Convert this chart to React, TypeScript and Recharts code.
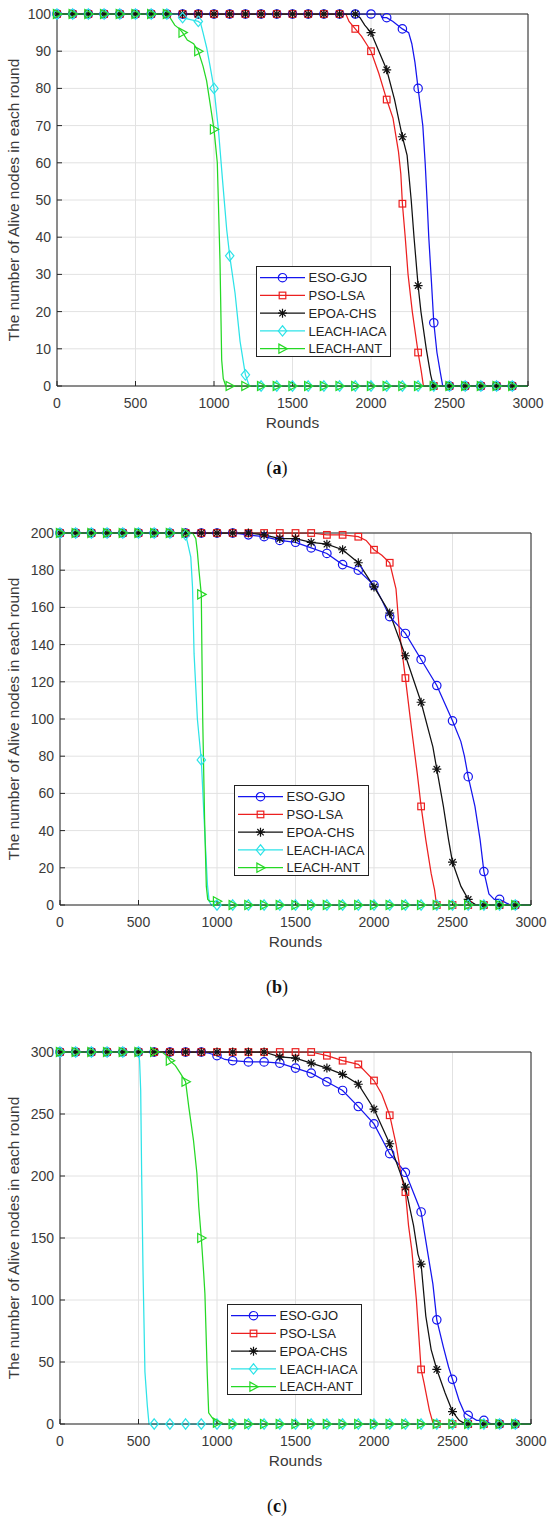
import React from 'react';
import { LineChart, Line, XAxis, YAxis, CartesianGrid } from 'recharts';

type Pt = [number, number];

const SERIES_NAMES = ['ESO-GJO', 'PSO-LSA', 'EPOA-CHS', 'LEACH-IACA', 'LEACH-ANT'];
const SERIES_COLORS = ['#1515ee', '#ec2020', '#111111', '#2ee3e8', '#25d825'];
const SERIES_MARKERS = ['circle', 'square', 'star', 'diamond', 'triangle'];
const X_TICKS = [0, 500, 1000, 1500, 2000, 2500, 3000];
const A_Y_TICKS = [0, 10, 20, 30, 40, 50, 60, 70, 80, 90, 100];
const B_Y_TICKS = [0, 20, 40, 60, 80, 100, 120, 140, 160, 180, 200];
const C_Y_TICKS = [0, 50, 100, 150, 200, 250, 300];
const PANEL_LETTERS = ['a', 'b', 'c'];
const X_LABEL = 'Rounds';
const Y_LABEL = 'The number of Alive nodes in each round';

// ---------- panel (a): 100 nodes ----------
const A_ESO: Pt[] = [[0,100],[100,100],[200,100],[300,100],[400,100],[500,100],[600,100],[700,100],[800,100],[900,100],[1000,100],[1100,100],[1200,100],[1300,100],[1400,100],[1500,100],[1600,100],[1700,100],[1800,100],[1900,100],[2000,100],[2060,100],[2070,99],[2100,99],[2140,98],[2170,97],[2200,96],[2240,95],[2260,92],[2280,87],[2300,80],[2330,70],[2345,60],[2357,50],[2368,40],[2385,28],[2400,17],[2420,9],[2440,4],[2457,0],[2500,0],[2600,0],[2700,0],[2800,0],[2900,0],[3000,0]];
const A_PSO: Pt[] = [[0,100],[100,100],[200,100],[300,100],[400,100],[500,100],[600,100],[700,100],[800,100],[900,100],[1000,100],[1100,100],[1200,100],[1300,100],[1400,100],[1500,100],[1600,100],[1700,100],[1800,100],[1840,100],[1860,98],[1880,97],[1900,96],[1940,94],[1970,92],[2000,90],[2050,84],[2100,77],[2140,72],[2175,63],[2190,57],[2200,49],[2218,40],[2236,30],[2263,20],[2300,9],[2320,4],[2334,0],[2400,0],[2500,0],[2600,0],[2700,0],[2800,0],[2900,0],[3000,0]];
const A_EPOA: Pt[] = [[0,100],[100,100],[200,100],[300,100],[400,100],[500,100],[600,100],[700,100],[800,100],[900,100],[1000,100],[1100,100],[1200,100],[1300,100],[1400,100],[1500,100],[1600,100],[1700,100],[1800,100],[1900,100],[1930,99],[1960,97],[2000,95],[2050,90],[2100,85],[2150,77],[2200,67],[2230,62],[2256,50],[2274,40],[2300,27],[2318,20],[2352,10],[2380,3],[2397,0],[2400,0],[2500,0],[2600,0],[2700,0],[2800,0],[2900,0],[3000,0]];
const A_IACA: Pt[] = [[0,100],[100,100],[200,100],[300,100],[400,100],[500,100],[600,100],[700,100],[780,100],[800,99],[850,98.5],[900,98],[915,97.5],[930,95],[953,91],[975,86],[1000,80],[1028,69],[1055,55],[1081,42],[1100,35],[1134,25],[1166,12],[1200,3],[1225,0],[1300,0],[1400,0],[1500,0],[1600,0],[1700,0],[1800,0],[1900,0],[2000,0],[2100,0],[2200,0],[2300,0],[2400,0],[2500,0],[2600,0],[2700,0],[2800,0],[2900,0],[3000,0]];
const A_ANT: Pt[] = [[0,100],[100,100],[200,100],[300,100],[400,100],[500,100],[600,100],[700,100],[720,99],[750,97],[780,96],[800,95],[830,93],[870,92],[900,90],[930,86],[953,82],[975,76],[1000,69],[1021,60],[1038,34],[1049,7],[1059,2],[1075,0],[1100,0],[1200,0],[1300,0],[1400,0],[1500,0],[1600,0],[1700,0],[1800,0],[1900,0],[2000,0],[2100,0],[2200,0],[2300,0],[2400,0],[2500,0],[2600,0],[2700,0],[2800,0],[2900,0],[3000,0]];

// ---------- panel (b): 200 nodes ----------
const B_ESO: Pt[] = [[0,200],[100,200],[200,200],[300,200],[400,200],[500,200],[600,200],[700,200],[800,200],[900,200],[1000,200],[1100,200],[1200,199],[1300,198],[1400,196],[1500,195],[1600,192],[1700,189],[1800,183],[1900,180],[2000,172],[2050,164],[2100,155],[2200,146],[2300,132],[2400,118],[2500,99],[2553,88],[2576,80],[2600,69],[2643,53],[2676,35],[2700,18],[2732,6],[2766,3],[2800,3],[2844,1],[2870,0],[2900,0],[3000,0]];
const B_PSO: Pt[] = [[0,200],[100,200],[200,200],[300,200],[400,200],[500,200],[600,200],[700,200],[800,200],[900,200],[1000,200],[1100,200],[1200,200],[1300,200],[1400,200],[1500,200],[1600,200],[1700,199],[1800,199],[1900,198],[1950,196],[2000,191],[2050,188],[2100,184],[2140,170],[2163,146],[2185,132],[2200,122],[2230,101],[2248,89],[2275,71],[2300,53],[2330,35],[2364,17],[2386,8],[2397,1],[2400,0],[2500,0],[2600,0],[2700,0],[2800,0],[2900,0],[3000,0]];
const B_EPOA: Pt[] = [[0,200],[100,200],[200,200],[300,200],[400,200],[500,200],[600,200],[700,200],[800,200],[900,200],[1000,200],[1100,200],[1200,200],[1300,199],[1400,197],[1500,197],[1600,195],[1700,194],[1800,191],[1900,184],[2000,171],[2100,157],[2200,134],[2300,109],[2353,92],[2375,85],[2400,73],[2442,53],[2475,35],[2500,23],[2554,10],[2600,3],[2632,1],[2650,0],[2700,0],[2800,0],[2900,0],[3000,0]];
const B_IACA: Pt[] = [[0,200],[100,200],[200,200],[300,200],[400,200],[500,200],[600,200],[700,200],[795,200],[800,199],[812,195],[833,187],[844,171],[854,135],[875,100],[900,78],[918,46],[939,11],[950,2],[965,0],[1000,0],[1100,0],[1200,0],[1300,0],[1400,0],[1500,0],[1600,0],[1700,0],[1800,0],[1900,0],[2000,0],[2100,0],[2200,0],[2300,0],[2400,0],[2500,0],[2600,0],[2700,0],[2800,0],[2900,0],[3000,0]];
const B_ANT: Pt[] = [[0,200],[100,200],[200,200],[300,200],[400,200],[500,200],[600,200],[700,200],[800,200],[845,200],[865,197],[875,190],[885,180],[900,167],[904,135],[909,100],[921,46],[932,10],[941,3],[955,2],[1000,2],[1030,0],[1100,0],[1200,0],[1300,0],[1400,0],[1500,0],[1600,0],[1700,0],[1800,0],[1900,0],[2000,0],[2100,0],[2200,0],[2300,0],[2400,0],[2500,0],[2600,0],[2700,0],[2800,0],[2900,0],[3000,0]];

// ---------- panel (c): 300 nodes ----------
const C_ESO: Pt[] = [[0,300],[100,300],[200,300],[300,300],[400,300],[500,300],[600,300],[700,300],[800,300],[900,300],[950,299],[1000,297],[1050,294],[1100,293],[1200,292],[1300,292],[1400,291],[1500,287],[1600,283],[1700,276],[1800,269],[1900,256],[2000,242],[2100,218],[2200,203],[2300,171],[2345,136],[2375,113],[2400,84],[2442,62],[2475,46],[2500,36],[2542,19],[2576,9],[2600,7],[2654,3],[2700,3],[2732,1],[2750,0],[2800,0],[2900,0],[3000,0]];
const C_PSO: Pt[] = [[0,300],[100,300],[200,300],[300,300],[400,300],[500,300],[600,300],[700,300],[800,300],[900,300],[1000,300],[1100,300],[1200,300],[1300,300],[1400,300],[1500,300],[1600,300],[1700,297],[1800,293],[1900,290],[2000,277],[2050,266],[2100,249],[2140,226],[2174,200],[2200,187],[2220,160],[2241,140],[2270,100],[2300,44],[2319,33],[2353,11],[2375,1],[2385,0],[2400,0],[2500,0],[2600,0],[2700,0],[2800,0],[2900,0],[3000,0]];
const C_EPOA: Pt[] = [[0,300],[100,300],[200,300],[300,300],[400,300],[500,300],[600,300],[700,300],[800,300],[900,300],[1000,300],[1100,300],[1200,300],[1300,300],[1400,296],[1500,295],[1600,291],[1700,287],[1800,282],[1900,274],[2000,254],[2100,226],[2200,191],[2252,160],[2280,137],[2300,129],[2330,87],[2364,60],[2400,44],[2453,25],[2500,10],[2542,3],[2576,0.5],[2600,0],[2700,0],[2800,0],[2900,0],[3000,0]];
const C_IACA: Pt[] = [[0,300],[100,300],[200,300],[300,300],[400,300],[500,300],[507,293],[514,269],[520,202],[529,122],[541,42],[556,15],[567,0],[600,0],[700,0],[800,0],[900,0],[1000,0],[1100,0],[1200,0],[1300,0],[1400,0],[1500,0],[1600,0],[1700,0],[1800,0],[1900,0],[2000,0],[2100,0],[2200,0],[2300,0],[2400,0],[2500,0],[2600,0],[2700,0],[2800,0],[2900,0],[3000,0]];
const C_ANT: Pt[] = [[0,300],[100,300],[200,300],[300,300],[400,300],[500,300],[600,300],[650,300],[680,297],[700,293],[735,289],[766,283],[800,276],[820,256],[850,229],[872,202],[884,175],[900,150],[915,122],[923,105],[930,75],[938,40],[947,9],[970,5],[1000,1],[1020,0],[1100,0],[1200,0],[1300,0],[1400,0],[1500,0],[1600,0],[1700,0],[1800,0],[1900,0],[2000,0],[2100,0],[2200,0],[2300,0],[2400,0],[2500,0],[2600,0],[2700,0],[2800,0],[2900,0],[3000,0]];

const FONT = '"Liberation Sans", Arial, Helvetica, sans-serif';
const TEXT_COLOR = '#3a3a3a';
const AXIS_COLOR = '#262626';
const GRID_COLOR = '#e2e2e2';

function Marker({ shape, cx, cy, color }: { shape: string; cx: number; cy: number; color: string }) {
  const sw = 1.2;
  switch (shape) {
    case 'circle':
      return <circle cx={cx} cy={cy} r={4.2} fill="none" stroke={color} strokeWidth={sw} />;
    case 'square':
      return <rect x={cx - 3.3} y={cy - 3.3} width={6.6} height={6.6} fill="none" stroke={color} strokeWidth={sw} />;
    case 'star':
      return (
        <path
          d={`M${cx - 4.5},${cy}H${cx + 4.5}M${cx},${cy - 4.5}V${cy + 4.5}M${cx - 3.2},${cy - 3.2}L${cx + 3.2},${cy + 3.2}M${cx - 3.2},${cy + 3.2}L${cx + 3.2},${cy - 3.2}`}
          fill="none"
          stroke={color}
          strokeWidth={sw}
        />
      );
    case 'diamond':
      return (
        <polygon
          points={`${cx},${cy - 5.2} ${cx + 4.2},${cy} ${cx},${cy + 5.2} ${cx - 4.2},${cy}`}
          fill="none"
          stroke={color}
          strokeWidth={sw}
        />
      );
    default:
      return (
        <polygon
          points={`${cx + 4.8},${cy} ${cx - 3.6},${cy - 4.6} ${cx - 3.6},${cy + 4.6}`}
          fill="none"
          stroke={color}
          strokeWidth={sw}
        />
      );
  }
}

const makeDot = (shape: string, color: string) => (props: any) => {
  const { cx, cy, payload, index } = props;
  const k = `dot-${shape}-${index}`;
  if (!payload || cx == null || cy == null || payload.r % 100 !== 0 || payload.r >= 3000) {
    return <g key={k} />;
  }
  return (
    <g key={k}>
      <Marker shape={shape} cx={cx} cy={cy} color={color} />
    </g>
  );
};

function LegendBox({ left, top }: { left: number; top: number }) {
  const w = 135;
  const h = 91;
  return (
    <div
      style={{
        position: 'absolute',
        left,
        top,
        width: w,
        height: h,
        background: '#fff',
        border: '1px solid #222',
        boxSizing: 'border-box',
      }}
    >
      <svg width={w - 2} height={h - 2} style={{ position: 'absolute', left: 0, top: 0 }}>
        {SERIES_NAMES.map((name, i) => {
          const y = 10.7 + i * 17.75;
          return (
            <g key={name}>
              <line x1={3} x2={48} y1={y} y2={y} stroke={SERIES_COLORS[i]} strokeWidth={1.2} />
              <Marker shape={SERIES_MARKERS[i]} cx={25.5} cy={y} color={SERIES_COLORS[i]} />
              <text x={51.5} y={y} dy="0.36em" fontSize={13} fontFamily={FONT} fill="#222">
                {name}
              </text>
            </g>
          );
        })}
      </svg>
    </div>
  );
}

type PanelProps = {
  top: number;
  series: Pt[][];
  yTicks: number[];
  plotLeft: number;
  plotRight: number;
  legendLeft: number;
  letter: string;
};

function Panel({ top, series, yTicks, plotLeft, plotRight, legendLeft, letter }: PanelProps) {
  const W = 550;
  const H = 519;
  const plotTop = 14;
  const plotBottom = 386;
  const yMax = yTicks[yTicks.length - 1];
  const frameData = series[series.length - 1].map(([r, v]) => ({ r, v }));
  return (
    <div style={{ position: 'absolute', left: 0, top, width: W, height: H }}>
      <LineChart
        width={W}
        height={H}
        margin={{ top: plotTop - 1, right: W - plotRight - 1, bottom: H - plotBottom - 30, left: 0 }}
      >
        <CartesianGrid stroke={GRID_COLOR} strokeWidth={1} />
        <XAxis
          dataKey="r"
          type="number"
          domain={[0, 3000]}
          ticks={X_TICKS}
          height={30}
          stroke={AXIS_COLOR}
          tickSize={-5}
          tickMargin={17}
          tick={{ fill: TEXT_COLOR, fontSize: 14, fontFamily: FONT }}
        />
        <XAxis
          xAxisId="top"
          orientation="top"
          dataKey="r"
          type="number"
          domain={[0, 3000]}
          ticks={X_TICKS}
          height={1}
          stroke={AXIS_COLOR}
          tickSize={-5}
          tick={false}
        />
        <YAxis
          type="number"
          domain={[0, yMax]}
          ticks={yTicks}
          width={plotLeft}
          stroke={AXIS_COLOR}
          tickSize={-5}
          tickMargin={11}
          tick={{ fill: TEXT_COLOR, fontSize: 14, fontFamily: FONT }}
        />
        <YAxis
          yAxisId="right"
          orientation="right"
          type="number"
          domain={[0, yMax]}
          ticks={yTicks}
          width={1}
          stroke={AXIS_COLOR}
          tickSize={-5}
          tick={false}
        />
        {/* invisible series bound to the top/right frame axes so they get a scale */}
        <Line
          xAxisId="top"
          yAxisId="right"
          data={frameData}
          dataKey="v"
          stroke="none"
          dot={false}
          activeDot={false}
          legendType="none"
          isAnimationActive={false}
        />
        {series.map((pts, i) => (
          <Line
            key={SERIES_NAMES[i]}
            name={SERIES_NAMES[i]}
            data={pts.map(([r, v]) => ({ r, v }))}
            dataKey="v"
            type="linear"
            stroke={SERIES_COLORS[i]}
            strokeWidth={1.25}
            dot={makeDot(SERIES_MARKERS[i], SERIES_COLORS[i])}
            activeDot={false}
            isAnimationActive={false}
          />
        ))}
      </LineChart>
      <LegendBox left={legendLeft} top={266} />
      <div
        style={{
          position: 'absolute',
          left: 13.5,
          top: (plotTop + plotBottom) / 2,
          transform: 'translate(-50%, -50%) rotate(-90deg)',
          whiteSpace: 'nowrap',
          fontFamily: FONT,
          fontSize: 15.5,
          color: TEXT_COLOR,
          lineHeight: 1,
        }}
      >
        {Y_LABEL}
      </div>
      <div
        style={{
          position: 'absolute',
          left: (plotLeft + plotRight) / 2,
          top: 423,
          transform: 'translate(-50%, -50%)',
          whiteSpace: 'nowrap',
          fontFamily: FONT,
          fontSize: 15.5,
          color: TEXT_COLOR,
          lineHeight: 1,
        }}
      >
        {X_LABEL}
      </div>
      <div
        style={{
          position: 'absolute',
          left: 277,
          top: 468,
          transform: 'translate(-50%, -50%)',
          whiteSpace: 'nowrap',
          fontFamily: '"Liberation Serif", "Times New Roman", serif',
          fontSize: 18,
          color: '#111',
          lineHeight: 1,
        }}
      >
        (<b>{letter}</b>)
      </div>
    </div>
  );
}

export default function App() {
  return (
    <div style={{ position: 'absolute', left: 0, top: 0, width: 550, height: 1521, background: '#fff', overflow: 'hidden' }}>
      <Panel
        top={0}
        series={[A_ESO, A_PSO, A_EPOA, A_IACA, A_ANT]}
        yTicks={A_Y_TICKS}
        plotLeft={57}
        plotRight={528}
        legendLeft={256}
        letter={PANEL_LETTERS[0]}
      />
      <Panel
        top={519}
        series={[B_ESO, B_PSO, B_EPOA, B_IACA, B_ANT]}
        yTicks={B_Y_TICKS}
        plotLeft={60}
        plotRight={531}
        legendLeft={234}
        letter={PANEL_LETTERS[1]}
      />
      <Panel
        top={1038}
        series={[C_ESO, C_PSO, C_EPOA, C_IACA, C_ANT]}
        yTicks={C_Y_TICKS}
        plotLeft={60}
        plotRight={531}
        legendLeft={227}
        letter={PANEL_LETTERS[2]}
      />
    </div>
  );
}
